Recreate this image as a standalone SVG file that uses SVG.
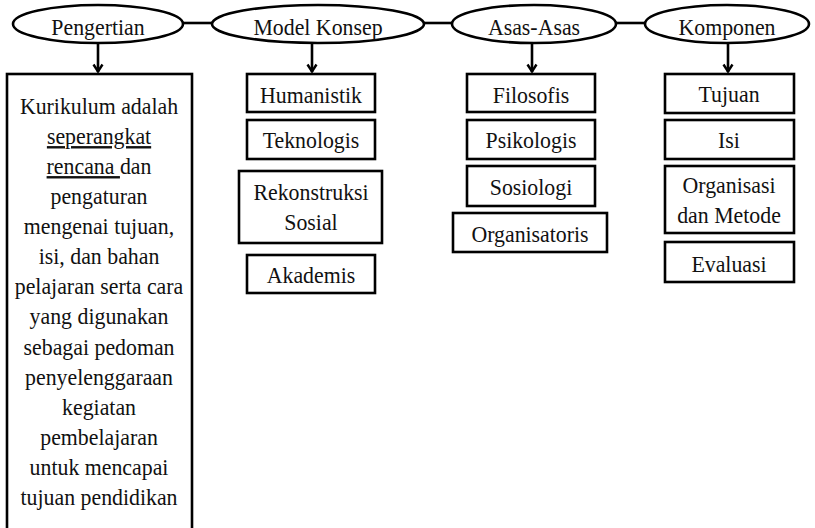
<svg xmlns="http://www.w3.org/2000/svg" width="815" height="528" viewBox="0 0 815 528">
  <style>
    .shape { fill: #ffffff; stroke: #000000; stroke-width: 2.6; }
    .link { fill: none; stroke: #000000; stroke-width: 2.6; }
    .head { fill: none; stroke: #000000; stroke-width: 2.4; stroke-linejoin: miter; }
    text { font-family: "Liberation Serif", "Times New Roman", serif; font-size: 24px; fill: #111111; text-anchor: middle;
           transform-box: fill-box; transform-origin: center; transform: scaleX(0.91); }
    .u { text-decoration: underline; }
  </style>

  <!-- connectors between headings and from headings to their lists -->
  <g id="connectors">
    <line class="link" x1="183" y1="23" x2="212" y2="23"/>
    <line class="link" x1="424" y1="23" x2="452" y2="23"/>
    <line class="link" x1="616" y1="23" x2="645" y2="23"/>
    <line class="link" x1="98" y1="43" x2="98" y2="72"/>
    <path class="head" d="M93.5,64.5 L98,71.5 L102.5,64.5"/>
    <line class="link" x1="312" y1="43" x2="312" y2="72"/>
    <path class="head" d="M307.5,64.5 L312,71.5 L316.5,64.5"/>
    <line class="link" x1="532" y1="43" x2="532" y2="72"/>
    <path class="head" d="M527.5,64.5 L532,71.5 L536.5,64.5"/>
    <line class="link" x1="728" y1="43" x2="728" y2="72"/>
    <path class="head" d="M723.5,64.5 L728,71.5 L732.5,64.5"/>
  </g>

  <!-- headings -->
  <g id="pengertian">
    <ellipse class="shape" cx="98" cy="24" rx="85" ry="19"/>
    <text x="98" y="35">Pengertian</text>
  </g>
  <g id="model-konsep">
    <ellipse class="shape" cx="318" cy="24" rx="106" ry="19"/>
    <text x="318" y="35">Model Konsep</text>
  </g>
  <g id="asas-asas">
    <ellipse class="shape" cx="534" cy="24" rx="82" ry="19"/>
    <text x="534" y="35">Asas-Asas</text>
  </g>
  <g id="komponen">
    <ellipse class="shape" cx="727" cy="24" rx="82" ry="19"/>
    <text x="727" y="35">Komponen</text>
  </g>

  <!-- definition -->
  <g id="definisi">
    <rect class="shape" x="7" y="74" width="185" height="470"/>
    <text x="99" y="114">Kurikulum adalah</text>
    <text x="99" y="144" class="u">seperangkat</text>
    <text x="99" y="174"><tspan class="u">rencana </tspan>dan</text>
    <text x="99" y="204">pengaturan</text>
    <text x="99" y="234">mengenai tujuan,</text>
    <text x="99" y="264.5">isi, dan bahan</text>
    <text x="99" y="294.5">pelajaran serta cara</text>
    <text x="99" y="324.5">yang digunakan</text>
    <text x="99" y="355">sebagai pedoman</text>
    <text x="99" y="385">penyelenggaraan</text>
    <text x="99" y="415">kegiatan</text>
    <text x="99" y="445">pembelajaran</text>
    <text x="99" y="475">untuk mencapai</text>
    <text x="99" y="505">tujuan pendidikan</text>
  </g>

  <!-- curriculum models -->
  <g id="humanistik">
    <rect class="shape" x="247" y="74" width="128" height="38"/>
    <text x="311" y="103">Humanistik</text>
  </g>
  <g id="teknologis">
    <rect class="shape" x="247" y="120" width="128" height="39"/>
    <text x="311" y="148">Teknologis</text>
  </g>
  <g id="rekonstruksi-sosial">
    <rect class="shape" x="239" y="171" width="143" height="72"/>
    <text x="311" y="200">Rekonstruksi</text>
    <text x="311" y="230">Sosial</text>
  </g>
  <g id="akademis">
    <rect class="shape" x="247" y="255" width="128" height="38"/>
    <text x="311" y="283">Akademis</text>
  </g>

  <!-- foundations -->
  <g id="filosofis">
    <rect class="shape" x="467" y="74" width="128" height="38"/>
    <text x="531" y="103">Filosofis</text>
  </g>
  <g id="psikologis">
    <rect class="shape" x="467" y="120" width="128" height="39"/>
    <text x="531" y="148">Psikologis</text>
  </g>
  <g id="sosiologi">
    <rect class="shape" x="467" y="166" width="128" height="40"/>
    <text x="531" y="195">Sosiologi</text>
  </g>
  <g id="organisatoris">
    <rect class="shape" x="453" y="213" width="154" height="39"/>
    <text x="530" y="242">Organisatoris</text>
  </g>

  <!-- components -->
  <g id="tujuan">
    <rect class="shape" x="665" y="74" width="129" height="39"/>
    <text x="729" y="102">Tujuan</text>
  </g>
  <g id="isi">
    <rect class="shape" x="665" y="120" width="129" height="39"/>
    <text x="729" y="148">Isi</text>
  </g>
  <g id="organisasi-metode">
    <rect class="shape" x="665" y="166" width="129" height="67"/>
    <text x="729" y="193">Organisasi</text>
    <text x="729" y="223">dan Metode</text>
  </g>
  <g id="evaluasi">
    <rect class="shape" x="665" y="242" width="129" height="40"/>
    <text x="729" y="272">Evaluasi</text>
  </g>
</svg>
